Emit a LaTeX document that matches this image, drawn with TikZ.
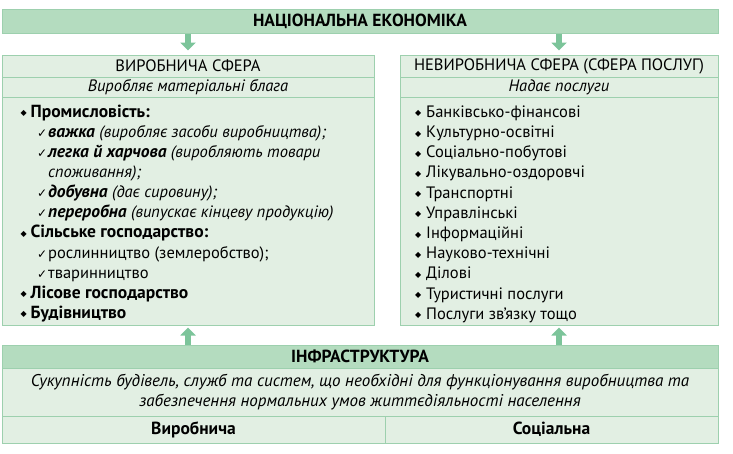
\documentclass[tikz,border=0pt]{standalone}
\usepackage{fontspec}
\setmainfont{PT Sans}
\newfontfamily\symfont{DejaVu Sans}
\usetikzlibrary{arrows.meta}
\definecolor{hdr}{HTML}{B4DCBF}
\definecolor{bodyg}{HTML}{E2EFE3}
\definecolor{edgeg}{HTML}{9DD0AE}
\definecolor{arrg}{HTML}{7CC49A}
\newcommand\rgf{\fontsize{16.5}{20}\selectfont}
\newcommand\bdf{\fontsize{17.5}{20}\selectfont\bfseries}
\newcommand\itf{\fontsize{16.5}{20}\selectfont\itshape}
\newcommand\bif{\fontsize{17.5}{20}\selectfont\bfseries\itshape}
\newcommand\B[1]{{\bdf #1}}
\newcommand\I[1]{{\itf #1}}
\newcommand\BI[1]{{\bif #1}}
\newcommand\bul{\makebox[10pt][l]{\raisebox{1.5pt}{\symfont\fontsize{8}{8}\selectfont ◆}}}
\newcommand\rbul{\makebox[11pt][l]{\raisebox{1.5pt}{\symfont\fontsize{8}{8}\selectfont ◆}}}
\newcommand\chk{\makebox[11pt][l]{\symfont\fontsize{12}{12}\selectfont ✓}}
\begin{document}
\begin{tikzpicture}[x=1pt,y=-1pt,
  box/.style={draw=edgeg, line width=1pt, inner sep=0pt, font=\rgf},
  hbox/.style={box, fill=hdr, font=\bdf},
  bbox/.style={box, fill=bodyg},
  item/.style={anchor=base west, inner sep=0pt, font=\rgf},
  fat/.style={draw=arrg, line width=6pt, -{Triangle[width=15pt,length=8pt]}}]
\useasboundingbox (0,0) rectangle (733,453);
% top
\node[hbox, minimum width=716pt, minimum height=24pt] (nat) at (360,21.2) {НАЦІОНАЛЬНА ЕКОНОМІКА};
% left sphere
\node[bbox, minimum width=372pt, minimum height=22pt] (lh) at (188,66) {ВИРОБНИЧА СФЕРА};
\node[bbox, minimum width=372pt, minimum height=20pt, font=\itf] (ld) at (188,87) {Виробляє матеріальні блага};
\node[bbox, minimum width=372pt, minimum height=228pt] (ll) at (188,211) {};
% right sphere
\node[bbox, minimum width=318pt, minimum height=22pt] (rh) at (559,66) {НЕВИРОБНИЧА СФЕРА (СФЕРА ПОСЛУГ)};
\node[bbox, minimum width=318pt, minimum height=20pt, font=\itf] (rd) at (559,87) {Надає послуги};
\node[bbox, minimum width=318pt, minimum height=228pt] (rl) at (559,211) {};
% infrastructure
\node[hbox, minimum width=716pt, minimum height=23pt] (it) at (360,356.5) {ІНФРАСТРУКТУРА};
\node[bbox, minimum width=716pt, minimum height=48pt, align=center, font=\fontsize{17}{20}\selectfont\itshape] (id) at (360,392) {Сукупність будівель, служб та систем, що необхідні для функціонування виробництва та\\забезпечення нормальних умов життєдіяльності населення};
\node[bbox, minimum width=383pt, minimum height=27pt, font=\bdf] (iv) at (193.5,429.5) {Виробнича};
\node[bbox, minimum width=333pt, minimum height=27pt, font=\bdf] (is) at (551.5,429.5) {Соціальна};
% left list
\node[item] (l1) at (20.5,117.3) {\bul\B{Промисловість:}};
\node[item] (l2) at (37,137.4) {\chk\BI{важка} \I{(виробляє засоби виробництва);}};
\node[item] (l3) at (37,157.5) {\chk\BI{легка й харчова} \I{(виробляють товари}};
\node[item] (l4) at (48,177.6) {\I{споживання);}};
\node[item] (l5) at (37,197.7) {\chk\BI{добувна} \I{(дає сировину);}};
\node[item] (l6) at (37,217.8) {\chk\BI{переробна} \I{(випускає кінцеву продукцію)}};
\node[item] (l7) at (20.5,237.9) {\bul\B{Сільське господарство:}};
\node[item] (l8) at (37,258) {\chk рослинництво (землеробство);};
\node[item] (l9) at (37,278.1) {\chk тваринництво};
\node[item] (l10) at (20.5,298.2) {\bul\B{Лісове господарство}};
\node[item] (l11) at (20.5,318.3) {\bul\B{Будівництво}};
% right list
\node[item] (r1) at (415,117.3) {\rbul Банківсько-фінансові};
\node[item] (r2) at (415,137.5) {\rbul Культурно-освітні};
\node[item] (r3) at (415,157.7) {\rbul Соціально-побутові};
\node[item] (r4) at (415,177.9) {\rbul Лікувально-оздоровчі};
\node[item] (r5) at (415,198.1) {\rbul Транспортні};
\node[item] (r6) at (415,218.3) {\rbul Управлінські};
\node[item] (r7) at (415,238.5) {\rbul Інформаційні};
\node[item] (r8) at (415,258.7) {\rbul Науково-технічні};
\node[item] (r9) at (415,278.9) {\rbul Ділові};
\node[item] (r10) at (415,299.1) {\rbul Туристичні послуги};
\node[item] (r11) at (415,319.3) {\rbul Послуги зв’язку тощо};
% arrows
\draw[fat, shorten >=4pt] (nat.south -| lh.north) -- (lh.north);
\draw[fat, shorten >=4pt] (nat.south -| rh.north) -- (rh.north);
\draw[fat, shorten >=2pt] (it.north -| ll.south) -- (ll.south);
\draw[fat, shorten >=2pt] (it.north -| rl.south) -- (rl.south);
\end{tikzpicture}
\end{document}
